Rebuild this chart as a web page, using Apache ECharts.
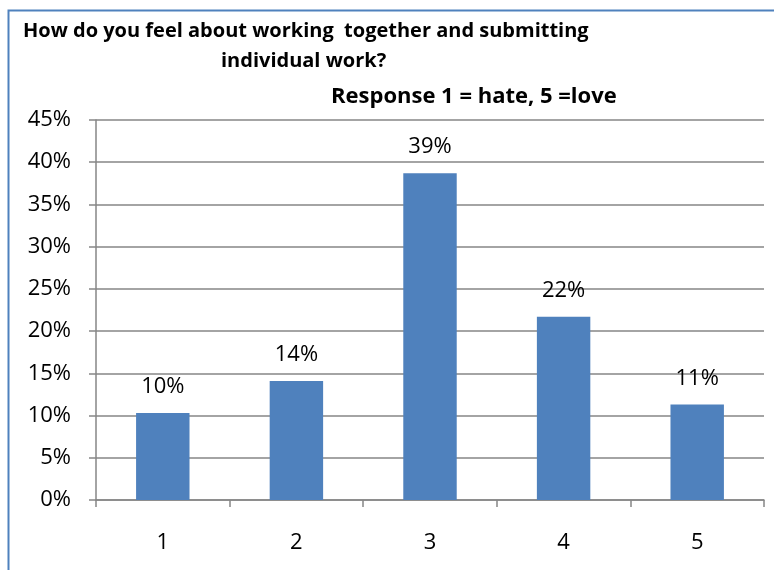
<!DOCTYPE html>
<html>
<head>
<meta charset="utf-8">
<script src="https://cdn.jsdelivr.net/npm/echarts@6/dist/echarts.min.js"></script>
<style>
  html, body { margin: 0; padding: 0; background: #fff; }
  #chart { width: 774px; height: 570px; }
</style>
</head>
<body>
<div id="chart"></div>
<script>
// Survey responses on a 1 (hate) to 5 (love) scale
const categories = ['1', '2', '3', '4', '5'];
const shares = [0.103, 0.141, 0.387, 0.217, 0.113];
const yTicks = [0, 0.05, 0.10, 0.15, 0.20, 0.25, 0.30, 0.35, 0.40, 0.45];

const font = '"Open Sans", Lato, sans-serif';
const chart = echarts.init(document.getElementById('chart'));

chart.setOption({
  animation: false,
  textStyle: { fontFamily: font },
  title: [
    { text: 'How do you feel about working  together and submitting', left: 18, top: 16,
      textStyle: { fontSize: 20, fontWeight: 'bold', color: '#000', fontFamily: font } },
    { text: 'individual work?', left: 216, top: 46,
      textStyle: { fontSize: 20, fontWeight: 'bold', color: '#000', fontFamily: font } },
    { text: 'Response 1 = hate, 5 =love', left: 326, top: 81,
      textStyle: { fontSize: 22, fontWeight: 'bold', color: '#000', fontFamily: font } }
  ],
  graphic: [
    { type: 'rect', silent: true, shape: { x: 8.5, y: 10.5, width: 800, height: 600 },
      style: { fill: null, stroke: '#4f81bd', lineWidth: 2 } }
  ],
  grid: { left: 96, right: 10, top: 120, bottom: 70, containLabel: false },
  xAxis: {
    type: 'category',
    data: categories,
    axisLine: { lineStyle: { color: '#868686', width: 1.5 } },
    axisTick: { show: true, length: 7, alignWithLabel: false, lineStyle: { color: '#868686', width: 1.5 } },
    axisLabel: { fontSize: 22, color: '#000', margin: 32, fontFamily: font }
  },
  yAxis: {
    type: 'value',
    min: 0, max: 0.45, interval: 0.05,
    axisLine: { show: true, lineStyle: { color: '#868686', width: 1.5 } },
    axisTick: { show: true, length: 7, lineStyle: { color: '#868686', width: 1.5 } },
    splitLine: { show: true, lineStyle: { color: '#868686', width: 1.5 } },
    axisLabel: {
      fontSize: 22, color: '#000', margin: 25, fontFamily: font,
      formatter: v => {
        const hit = yTicks.find(t => Math.abs(t - v) < 1e-9);
        return Math.round((hit !== undefined ? hit : v) * 100) + '%';
      }
    }
  },
  series: [{
    type: 'bar',
    data: shares,
    barWidth: '40%',
    itemStyle: { color: '#4f81bd' },
    label: {
      show: true, position: 'top', distance: 15,
      fontSize: 22, color: '#000', fontFamily: font,
      formatter: p => Math.round(p.value * 100) + '%'
    }
  }]
});
</script>
</body>
</html>
